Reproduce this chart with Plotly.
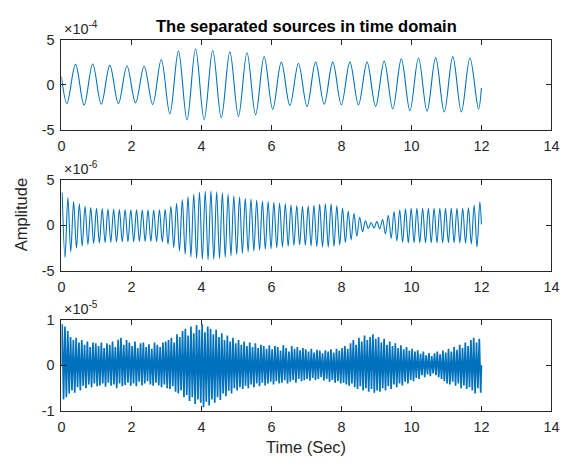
import numpy as np
import plotly.graph_objects as go

# ---------------- DATA ----------------
# Panel 1 : values in units of 1e-4, alternating trough / peak (starting with a trough)
s1_start_val = 0.9
s1_end_val = -0.36
s1_troughs = [-2.07, -2.25, -2.14, -2.07, -2.0, -2.18, -3.21, -3.89, -3.86, -3.64, -3.5,
              -3.32, -2.71, -2.29, -2.39, -2.14, -2.21, -2.21, -2.39, -2.68, -2.86, -2.93,
              -3.0, -3.0, -2.68]
s1_peaks = [2.25, 2.29, 2.14, 2.07, 2.04, 2.79, 3.75, 3.96, 3.79, 3.64, 3.54, 3.11, 2.5,
            2.36, 2.5, 2.5, 2.5, 2.5, 2.61, 2.86, 2.96, 3.0, 3.11, 2.96]
s1_first_extremum_t = 0.157
s1_half_period = 0.245

# Panel 2 : values in units of 1e-6
s2_peaks = [3.6, 3.05, 2.6, 2.36, 2.1, 1.95, 1.88, 1.82, 1.78, 1.75, 1.73, 1.72, 1.7, 1.7,
            1.68, 1.68, 1.68, 1.7, 1.75, 2.1, 2.43, 2.83, 3.15, 3.45, 3.65, 3.74, 3.79, 3.7,
            3.57, 3.4, 3.25, 3.1, 2.96, 2.88, 2.78, 2.67, 2.62, 2.52, 2.45, 2.37, 2.24, 2.15,
            2.07, 2.12, 2.2, 2.3, 2.36, 2.33, 2.15, 1.9, 1.56, 1.32, 0.89, 0.5, 0.3, 0.4,
            0.62, 1.1, 1.5, 1.68, 1.8, 1.86, 1.88, 1.88, 1.88, 1.88, 1.88, 1.88, 1.88, 1.88,
            1.88, 1.92, 2.2, 2.57]
s2_troughs = [-3.55, -2.93, -2.5, -2.3, -2.12, -2.0, -1.95, -1.9, -1.87, -1.85, -1.83, -1.8,
              -1.8, -1.78, -1.78, -1.78, -1.8, -1.85, -2.1, -2.46, -2.83, -3.19, -3.48, -3.66,
              -3.75, -3.79, -3.76, -3.66, -3.52, -3.38, -3.22, -3.08, -2.93, -2.84, -2.73,
              -2.65, -2.58, -2.48, -2.38, -2.3, -2.22, -2.15, -2.2, -2.28, -2.35, -2.39, -2.39,
              -2.33, -2.15, -1.9, -1.62, -1.2, -0.72, -0.35, -0.3, -0.4, -0.95, -1.45, -1.72,
              -1.87, -1.92, -1.93, -1.93, -1.93, -1.93, -1.93, -1.93, -1.93, -1.93, -1.93,
              -1.96, -2.07, -2.39]
s2_end_val = 0.1
s2_first_peak_t = 0.02
s2_period = 0.1635

# Panel 3 : values in units of 1e-5, one peak and one trough per cycle
s3_peaks = [0.9, 0.85, 0.75, 0.62, 0.55, 0.6, 0.5, 0.55, 0.45, 0.52, 0.4, 0.5, 0.48,
            0.42, 0.5, 0.38, 0.48, 0.45, 0.52, 0.4, 0.56, 0.6, 0.45, 0.55, 0.5,
            0.42, 0.52, 0.38, 0.48, 0.5, 0.4, 0.46, 0.36, 0.5, 0.45, 0.4, 0.5, 0.52,
            0.55, 0.6, 0.5, 0.68, 0.62, 0.75, 0.8, 0.65, 0.85, 0.7, 0.88, 0.78,
            0.9, 0.72, 0.85, 0.8, 0.68, 0.78, 0.62, 0.7, 0.55, 0.65, 0.52, 0.6, 0.48,
            0.55, 0.45, 0.52, 0.42, 0.5, 0.4, 0.48, 0.38, 0.45, 0.42, 0.36, 0.44,
            0.35, 0.42, 0.4, 0.32, 0.44, 0.38, 0.3, 0.42, 0.36, 0.4, 0.33, 0.38, 0.35,
            0.3, 0.36, 0.28, 0.34, 0.32, 0.26, 0.33, 0.3, 0.35, 0.28, 0.36, 0.32,
            0.38, 0.42, 0.36, 0.48, 0.55, 0.45, 0.6, 0.52, 0.65, 0.55, 0.62, 0.68, 0.58,
            0.62, 0.5, 0.58, 0.45, 0.52, 0.42, 0.48, 0.38, 0.44, 0.35, 0.4, 0.32,
            0.36, 0.3, 0.33, 0.25, 0.3, 0.22, 0.27, 0.2, 0.26, 0.3, 0.24, 0.32, 0.28,
            0.36, 0.3, 0.4, 0.34, 0.45, 0.38, 0.5, 0.42, 0.55, 0.6, 0.5, 0.58]
s3_troughs = [-0.75, -0.7, -0.62, -0.55, -0.6, -0.48, -0.55, -0.45, -0.5, -0.42, -0.48, -0.4, -0.46,
              -0.44, -0.4, -0.47, -0.38, -0.45, -0.42, -0.5, -0.4, -0.46, -0.43, -0.38, -0.45,
              -0.4, -0.46, -0.36, -0.44, -0.4, -0.35, -0.42, -0.45, -0.38, -0.44, -0.48, -0.42, -0.5,
              -0.52, -0.46, -0.58, -0.62, -0.55, -0.7, -0.65, -0.78, -0.7, -0.85, -0.75, -0.82,
              -0.92, -0.8, -0.88, -0.75, -0.82, -0.7, -0.76, -0.62, -0.68, -0.56, -0.62, -0.5, -0.55,
              -0.48, -0.52, -0.45, -0.5, -0.42, -0.48, -0.4, -0.46, -0.38, -0.44, -0.4, -0.36,
              -0.42, -0.35, -0.4, -0.38, -0.33, -0.4, -0.36, -0.32, -0.38, -0.3, -0.35, -0.33, -0.3,
              -0.34, -0.28, -0.32, -0.3, -0.26, -0.33, -0.3, -0.36, -0.32, -0.38, -0.35, -0.4,
              -0.38, -0.42, -0.45, -0.4, -0.48, -0.52, -0.46, -0.55, -0.5, -0.58, -0.52, -0.6, -0.55,
              -0.58, -0.5, -0.55, -0.46, -0.52, -0.42, -0.48, -0.4, -0.44, -0.36, -0.4, -0.32,
              -0.35, -0.28, -0.3, -0.22, -0.26, -0.2, -0.24, -0.18, -0.22, -0.26, -0.3, -0.35, -0.4,
              -0.42, -0.36, -0.45, -0.4, -0.5, -0.44, -0.52, -0.48, -0.55, -0.62, -0.5, -0.6]
s3_start_val = 0.0
s3_end_val = 0.0
s3_first_peak_t = 0.02
s3_period = 0.08

t_end = 12.0
x_ticks = [0, 2, 4, 6, 8, 10, 12, 14]
y_ticks_12 = [-5, 0, 5]
y_ticks_3 = [-1, 0, 1]
exponents = ["-4", "-6", "-5"]
title_text = "The separated sources in time domain"
ylabel_text = "Amplitude"
xlabel_text = "Time (Sec)"

# ---------------- BUILD SERIES ----------------
def interleave(a, b):
    out = []
    for i in range(max(len(a), len(b))):
        if i < len(a):
            out.append(a[i])
        if i < len(b):
            out.append(b[i])
    return out

y1 = [s1_start_val] + interleave(s1_troughs, s1_peaks) + [s1_end_val]
t1 = [0.0] + list(s1_first_extremum_t + s1_half_period * np.arange(len(y1) - 2)) + [t_end]

y2 = interleave(s2_peaks, s2_troughs) + [s2_end_val]
t2 = list(s2_first_peak_t + 0.5 * s2_period * np.arange(len(y2) - 1)) + [t_end]

y3 = [s3_start_val] + interleave(s3_peaks, s3_troughs) + [s3_end_val]
t3 = [0.0] + list(s3_first_peak_t + 0.5 * s3_period * np.arange(len(y3) - 2)) + [t_end]

# ---------------- FIGURE ----------------
W, H = 569, 465
FONT = "Liberation Sans, Arial, Helvetica, sans-serif"
AX = "#262626"
LINE = "#0072BD"
TICK_SIZE = 14.4
LABEL_SIZE = 16.5

x_px = (58.7, 559.2)
panels_px = [(32.7, 126.3), (178.0, 272.0), (322.7, 417.3)]

fig = go.Figure()
fig.add_trace(go.Scatter(x=t1, y=y1, mode="lines", line=dict(color=LINE, width=1.1, shape="spline"),
                         xaxis="x", yaxis="y", showlegend=False, hoverinfo="skip"))
fig.add_trace(go.Scatter(x=t2, y=y2, mode="lines", line=dict(color=LINE, width=1.1, shape="spline"),
                         xaxis="x2", yaxis="y2", showlegend=False, hoverinfo="skip"))
fig.add_trace(go.Scatter(x=t3, y=y3, mode="lines", line=dict(color=LINE, width=1.7),
                         xaxis="x3", yaxis="y3", showlegend=False, hoverinfo="skip"))

xd = [x_px[0] / W, x_px[1] / W]
layout = dict(width=W, height=H, margin=dict(l=0, r=0, t=0, b=0),
              paper_bgcolor="white", plot_bgcolor="white", showlegend=False,
              font=dict(family=FONT, color=AX, size=14))

for i, (top, bot) in enumerate(panels_px):
    sfx = "" if i == 0 else str(i + 1)
    yt = y_ticks_3 if i == 2 else y_ticks_12
    layout["xaxis" + sfx] = dict(
        domain=xd, range=[0, 14], anchor="y" + sfx, tickvals=x_ticks,
        ticktext=[str(v) for v in x_ticks], ticks="inside", ticklen=5, tickwidth=1,
        tickcolor=AX, mirror="allticks", showline=True, linecolor=AX, linewidth=1,
        showgrid=False, zeroline=False, tickfont=dict(family=FONT, size=TICK_SIZE, color=AX),
        ticklabelstandoff=3, fixedrange=True)
    layout["yaxis" + sfx] = dict(
        domain=[1 - bot / H, 1 - top / H], range=[yt[0], yt[-1]], anchor="x" + sfx,
        tickvals=yt, ticktext=[str(v) for v in yt], ticks="inside", ticklen=5, tickwidth=1,
        tickcolor=AX, mirror="allticks", showline=True, linecolor=AX, linewidth=1,
        showgrid=False, zeroline=False, tickfont=dict(family=FONT, size=TICK_SIZE, color=AX),
        ticklabelstandoff=3, fixedrange=True)

annotations = []
for i, (top, bot) in enumerate(panels_px):
    annotations.append(dict(
        text="\u00d710<sup>" + exponents[i] + "</sup>", xref="paper", yref="paper",
        x=(x_px[0] + 1) / W, y=1 - (top - 1) / H, xanchor="left", yanchor="bottom",
        showarrow=False, font=dict(family=FONT, size=TICK_SIZE, color=AX)))

annotations.append(dict(text="<b>" + title_text + "</b>", xref="paper", yref="paper",
                        x=(x_px[0] + x_px[1]) / 2 / W, y=1 - 19 / H, xanchor="center",
                        yanchor="middle", showarrow=False,
                        font=dict(family=FONT, size=LABEL_SIZE, color="black")))
annotations.append(dict(text=ylabel_text, xref="paper", yref="paper", x=17 / W, y=1 - 214 / H,
                        xanchor="center", yanchor="middle", textangle=-90, showarrow=False,
                        font=dict(family=FONT, size=LABEL_SIZE, color=AX)))
annotations.append(dict(text=xlabel_text, xref="paper", yref="paper",
                        x=(x_px[0] + x_px[1]) / 2 / W, y=1 - 455 / H, xanchor="center",
                        yanchor="middle", showarrow=False,
                        font=dict(family=FONT, size=LABEL_SIZE, color=AX)))
layout["annotations"] = annotations

fig.update_layout(**layout)
fig.write_html("out.html", config={"displayModeBar": False})
